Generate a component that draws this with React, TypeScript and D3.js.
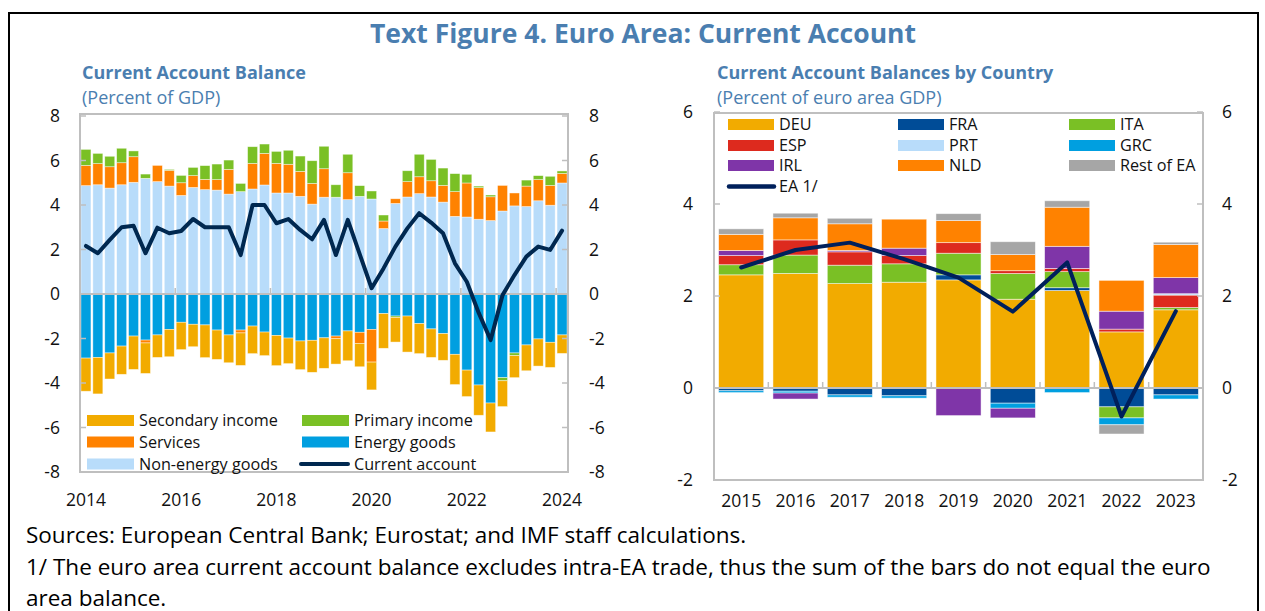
import React from "react";
import * as d3 from "d3";

// ---------- Left chart data (quarterly, 2014Q1–2024Q1) ----------
const years = ["2014", "2015", "2016", "2017", "2018", "2019", "2020", "2021", "2022", "2023", "2024"];
const qs = ["Q1", "Q2", "Q3", "Q4"];
const quarters = years.flatMap((y) => qs.map((q) => y + q)).slice(0, 41);

const nonEnergyGoods = [4.87, 4.91, 4.76, 4.91, 5.02, 5.2, 5.05, 4.85, 4.43, 4.79, 4.69, 4.67, 4.49, 4.6, 4.72, 4.9, 4.54, 4.54, 4.39, 4.04, 4.35, 4.35, 4.24, 4.39, 4.27, 2.94, 4.07, 4.36, 4.51, 4.36, 4.13, 3.49, 3.46, 3.36, 3.3, 3.73, 3.96, 3.93, 4.19, 3.99, 4.99];
const energyGoods = [-2.88, -2.85, -2.65, -2.34, -1.89, -2.07, -1.84, -1.59, -1.27, -1.36, -1.39, -1.62, -1.84, -1.62, -1.44, -1.71, -1.86, -1.98, -2.11, -2.08, -1.97, -1.89, -1.66, -1.72, -1.59, -0.88, -0.99, -0.99, -1.33, -1.57, -1.78, -2.71, -3.42, -4.09, -4.9, -3.76, -2.65, -2.29, -2.02, -2.17, -1.84];
const services = [0.91, 0.95, 0.96, 0.99, 1.15, -0.13, 0.73, 0.71, 0.57, 0.53, 0.46, 0.47, 1.11, -0.13, 1.15, 1.42, 1.33, 1.29, 1.12, 0.93, 1.28, -0.12, 1.21, -0.5, -1.47, 0.34, 0.21, 0.69, 0.76, 0.73, 0.75, 1.11, 1.53, 1.42, 1.07, 1.15, 0.58, 0.92, 0.95, 0.89, 0.43];
const primaryIncome = [0.72, 0.46, 0.47, 0.65, 0.26, 0.19, 0, 0.04, 0.33, 0.37, 0.62, 0.7, 0.42, 0.37, 0.75, 0.42, 0.54, 0.63, 0.69, 1.02, 1.01, 0.56, 0.83, 0.48, 0.36, 0.27, -0.06, 0.49, 1.01, 0.96, 0.78, 0.81, 0.39, 0.07, 0.08, -0.14, -0.12, 0.27, 0.18, 0.41, 0.11];
const secondaryIncome = [-1.49, -1.64, -1.17, -1.27, -1.5, -1.37, -1.01, -1.23, -1.23, -1.01, -1.47, -1.32, -1.25, -1.46, -1.24, -1.06, -1.36, -1.15, -1.29, -1.44, -1.37, -1.14, -1.34, -1.05, -1.25, -1.56, -1.11, -1.62, -1.35, -1.28, -1.2, -1.36, -1.19, -1.36, -1.3, -1.16, -0.99, -1.16, -1.22, -1.13, -0.83];
const currentAccount = [2.16, 1.83, 2.43, 3.0, 3.07, 1.83, 2.98, 2.73, 2.83, 3.37, 3.0, 3.0, 3.0, 1.75, 4.0, 4.0, 3.18, 3.37, 2.88, 2.46, 3.33, 1.75, 3.33, 1.79, 0.26, 1.15, 2.13, 2.95, 3.63, 3.21, 2.73, 1.38, 0.55, -0.85, -2.07, -0.05, 0.85, 1.68, 2.13, 1.98, 2.85];
const leftYTicks = [-8, -6, -4, -2, 0, 2, 4, 6, 8];
const leftXLabelQuarters = ["2014Q1", "2016Q1", "2018Q1", "2020Q1", "2022Q1", "2024Q1"];

// ---------- Right chart data (annual, 2015–2023) ----------
const countryYears = ["2015", "2016", "2017", "2018", "2019", "2020", "2021", "2022", "2023"];
const DEU = [2.46, 2.49, 2.27, 2.3, 2.35, 1.93, 2.12, 1.22, 1.7];
const FRA = [-0.06, -0.07, -0.15, -0.17, 0.11, -0.33, 0.06, -0.41, -0.15];
const ITA = [0.22, 0.4, 0.4, 0.4, 0.47, 0.56, 0.35, -0.24, 0.05];
const ESP = [0.2, 0.33, 0.29, 0.18, 0.23, 0.06, 0.07, 0.06, 0.27];
const PRT = [0, 0, 0, 0, 0, 0, 0, 0, 0.03];
const GRC = [-0.04, -0.04, -0.05, -0.05, 0, -0.11, -0.1, -0.15, -0.09];
const IRL = [0.11, -0.13, 0.03, 0.16, -0.6, -0.21, 0.48, 0.39, 0.35];
const NLD = [0.35, 0.48, 0.58, 0.63, 0.48, 0.35, 0.85, 0.67, 0.72];
const RestEA = [0.12, 0.1, 0.12, 0, 0.15, 0.28, 0.14, -0.2, 0.05];
const EA = [2.62, 3.0, 3.16, 2.8, 2.4, 1.66, 2.73, -0.62, 1.67];
const rightYTicks = [-2, 0, 2, 4, 6];

// ---------- Styles ----------
const FONT = "'Open Sans', 'Noto Sans', sans-serif";
const BLUE_TITLE = "#4A7EB0";
const AXIS_GRAY = "#BFBFBF";

const leftSeries = [
  { key: "nonEnergy", label: "Non-energy goods", color: "#B8DCFA", values: nonEnergyGoods },
  { key: "energy", label: "Energy goods", color: "#009FE0", values: energyGoods },
  { key: "services", label: "Services", color: "#FF8200", values: services },
  { key: "primary", label: "Primary income", color: "#7AC025", values: primaryIncome },
  { key: "secondary", label: "Secondary income", color: "#F2AB00", values: secondaryIncome },
];

const rightSeries = [
  { key: "DEU", color: "#F2AB00", values: DEU },
  { key: "FRA", color: "#004C97", values: FRA },
  { key: "ITA", color: "#7AC025", values: ITA },
  { key: "ESP", color: "#DD2A1E", values: ESP },
  { key: "PRT", color: "#B8DCFA", values: PRT },
  { key: "GRC", color: "#009FE0", values: GRC },
  { key: "IRL", color: "#7F35A8", values: IRL },
  { key: "NLD", color: "#FF8200", values: NLD },
  { key: "Rest of EA", color: "#A6A6A6", values: RestEA },
];

function stackIt(series: any[], cats: string[]) {
  const rows = cats.map((c, i) => {
    const r: any = { cat: c };
    series.forEach((s) => (r[s.key] = s.values[i]));
    return r;
  });
  return d3
    .stack()
    .keys(series.map((s) => s.key))
    .offset(d3.stackOffsetDiverging)(rows);
}

function LeftChart() {
  const L = 80, R = 568, T = 114, B = 472;
  const x = d3.scaleBand<string>().domain(quarters).range([L, R]).paddingInner(0.16).paddingOuter(0.08);
  const y = d3.scaleLinear().domain([-8, 8]).range([472, 116]);
  const stacked = stackIt(leftSeries, quarters);
  const line = d3
    .line<number>()
    .x((_, i) => (x(quarters[i]) as number) + x.bandwidth() / 2)
    .y((d) => y(d));
  const step = x.step();
  const boundary = (i: number) => (x(quarters[i]) as number) - (step * 0.16) / 2;
  const tickIdx = [8, 16, 24, 32, 40];

  const legend = [
    { label: "Secondary income", color: "#F2AB00", col: 0, row: 0 },
    { label: "Primary income", color: "#7AC025", col: 1, row: 0 },
    { label: "Services", color: "#FF8200", col: 0, row: 1 },
    { label: "Energy goods", color: "#009FE0", col: 1, row: 1 },
    { label: "Non-energy goods", color: "#B8DCFA", col: 0, row: 2 },
    { label: "Current account", color: "#002850", col: 1, row: 2, line: true },
  ];
  const colX = [87, 302];
  const rowY = [420.5, 442, 464];

  return (
    <g>
      {stacked.map((s, si) => (
        <g key={s.key} fill={leftSeries[si].color}>
          {s.map((d, i) => {
            const y0 = y(d[0]), y1 = y(d[1]);
            const h = Math.abs(y0 - y1);
            if (h < 0.01) return null;
            return (
              <rect key={i} x={x(quarters[i])} y={Math.min(y0, y1)} width={x.bandwidth()} height={h}
                stroke="#ffffff" strokeWidth={0.7} strokeOpacity={0.6} />
            );
          })}
        </g>
      ))}
      {/* zero axis */}
      <line x1={L} x2={R} y1={y(0)} y2={y(0)} stroke={AXIS_GRAY} strokeWidth={2} />
      {tickIdx.map((i) => (
        <line key={i} x1={boundary(i)} x2={boundary(i)} y1={y(0)} y2={y(0) - 6} stroke={AXIS_GRAY} strokeWidth={1.5} />
      ))}
      {/* frame */}
      <rect x={L} y={T} width={R - L} height={B - T} fill="none" stroke={AXIS_GRAY} strokeWidth={2} />
      {leftYTicks.map((t) => (
        <g key={t}>
          <line x1={L} x2={L + 6} y1={y(t)} y2={y(t)} stroke={AXIS_GRAY} strokeWidth={1.5} />
          <line x1={R - 6} x2={R} y1={y(t)} y2={y(t)} stroke={AXIS_GRAY} strokeWidth={1.5} />
          <text x={60} y={y(t)} dy="0.35em" textAnchor="end" fontSize={17.5} fill="#111">{t}</text>
          <text x={589} y={y(t)} dy="0.35em" textAnchor="start" fontSize={17.5} fill="#111">{t}</text>
        </g>
      ))}
      <path d={line(currentAccount) || ""} fill="none" stroke="#002850" strokeWidth={4} strokeLinejoin="round" strokeLinecap="round" />
      {leftXLabelQuarters.map((q) => (
        <text key={q} x={(x(q) as number) + x.bandwidth() / 2} y={500} dy="0.35em" textAnchor="middle" fontSize={17.5} fill="#111">
          {q.slice(0, 4)}
        </text>
      ))}
      {legend.map((l) => (
        <g key={l.label}>
          {l.line ? (
            <line x1={colX[l.col] - 1} x2={colX[l.col] + 46} y1={rowY[l.row]} y2={rowY[l.row]} stroke={l.color} strokeWidth={4} strokeLinecap="round" />
          ) : (
            <rect x={colX[l.col]} y={rowY[l.row] - 5.5} width={47} height={11} fill={l.color} />
          )}
          <text x={colX[l.col] + 52} y={rowY[l.row]} dy="0.36em" fontSize={16.2} fill="#111">{l.label}</text>
        </g>
      ))}
    </g>
  );
}

function RightChart() {
  const L = 714, R = 1203, T = 113, B = 480;
  const x = d3.scaleBand<string>().domain(countryYears).range([L, R]).paddingInner(0.17).paddingOuter(0.085);
  const y = d3.scaleLinear().domain([-2, 6]).range([480, 112]);
  const stacked = stackIt(rightSeries, countryYears);
  const line = d3
    .line<number>()
    .x((_, i) => (x(countryYears[i]) as number) + x.bandwidth() / 2)
    .y((d) => y(d));
  const step = x.step();
  const boundary = (i: number) => (x(countryYears[i]) as number) - (step * 0.17) / 2;

  const legend = [
    { label: "DEU", color: "#F2AB00", col: 0, row: 0 },
    { label: "FRA", color: "#004C97", col: 1, row: 0 },
    { label: "ITA", color: "#7AC025", col: 2, row: 0 },
    { label: "ESP", color: "#DD2A1E", col: 0, row: 1 },
    { label: "PRT", color: "#B8DCFA", col: 1, row: 1 },
    { label: "GRC", color: "#009FE0", col: 2, row: 1 },
    { label: "IRL", color: "#7F35A8", col: 0, row: 2 },
    { label: "NLD", color: "#FF8200", col: 1, row: 2 },
    { label: "Rest of EA", color: "#A6A6A6", col: 2, row: 2 },
    { label: "EA 1/", color: "#00205B", col: 0, row: 3, line: true },
  ];
  const colX = [728, 898, 1069];
  const rowY = [124.5, 145.5, 165.5, 186.5];

  return (
    <g>
      {stacked.map((s, si) => (
        <g key={s.key} fill={rightSeries[si].color}>
          {s.map((d, i) => {
            const y0 = y(d[0]), y1 = y(d[1]);
            const h = Math.abs(y0 - y1);
            if (h < 0.01) return null;
            return (
              <rect key={i} x={x(countryYears[i])} y={Math.min(y0, y1)} width={x.bandwidth()} height={h}
                stroke="#ffffff" strokeWidth={0.8} strokeOpacity={0.6} />
            );
          })}
        </g>
      ))}
      <line x1={L} x2={R} y1={y(0)} y2={y(0)} stroke={AXIS_GRAY} strokeWidth={2} />
      {countryYears.slice(1).map((c, k) => (
        <line key={c} x1={boundary(k + 1)} x2={boundary(k + 1)} y1={y(0)} y2={y(0) - 6} stroke={AXIS_GRAY} strokeWidth={1.5} />
      ))}
      <rect x={L} y={T} width={R - L} height={B - T} fill="none" stroke={AXIS_GRAY} strokeWidth={2} />
      {rightYTicks.map((t) => (
        <g key={t}>
          <line x1={L} x2={L + 6} y1={y(t)} y2={y(t)} stroke={AXIS_GRAY} strokeWidth={1.5} />
          <line x1={R - 6} x2={R} y1={y(t)} y2={y(t)} stroke={AXIS_GRAY} strokeWidth={1.5} />
          <text x={693} y={y(t)} dy="0.35em" textAnchor="end" fontSize={17.5} fill="#111">{t}</text>
          <text x={1222} y={y(t)} dy="0.35em" textAnchor="start" fontSize={17.5} fill="#111">{t}</text>
        </g>
      ))}
      <path d={line(EA) || ""} fill="none" stroke="#00205B" strokeWidth={4} strokeLinejoin="round" strokeLinecap="round" />
      {countryYears.map((c) => (
        <text key={c} x={(x(c) as number) + x.bandwidth() / 2} y={501} dy="0.35em" textAnchor="middle" fontSize={17.5} fill="#111">
          {c}
        </text>
      ))}
      {legend.map((l) => (
        <g key={l.label}>
          {l.line ? (
            <line x1={colX[l.col] + 1} x2={colX[l.col] + 46} y1={rowY[l.row]} y2={rowY[l.row]} stroke={l.color} strokeWidth={4.5} strokeLinecap="round" />
          ) : (
            <rect x={colX[l.col]} y={rowY[l.row] - 5.5} width={46} height={11} fill={l.color} />
          )}
          <text x={colX[l.col] + 51} y={rowY[l.row]} dy="0.36em" fontSize={16.2} fill="#111">{l.label}</text>
        </g>
      ))}
    </g>
  );
}

export default function App() {
  return (
    <svg width={1265} height={611} style={{ position: "absolute", left: 0, top: 0, background: "#fff" }} fontFamily={FONT}>
      <rect x={9} y={13} width={1249} height={640} fill="none" stroke="#000" strokeWidth={2} />
      <text x={643} y={43} textAnchor="middle" fontSize={26.5} fontWeight={700} fill={BLUE_TITLE}>
        Text Figure 4. Euro Area: Current Account
      </text>
      <text x={82} y={79} fontSize={18} fontWeight={700} fill={BLUE_TITLE}>Current Account Balance</text>
      <text x={82} y={104} fontSize={18} fill={BLUE_TITLE}>(Percent of GDP)</text>
      <text x={717} y={79} fontSize={18} fontWeight={700} fill={BLUE_TITLE}>Current Account Balances by Country</text>
      <text x={717} y={104} fontSize={18} fill={BLUE_TITLE}>(Percent of euro area GDP)</text>
      <LeftChart />
      <RightChart />
      <text x={26} y={543} fontSize={22.5} fill="#000">Sources: European Central Bank; Eurostat; and IMF staff calculations.</text>
      <text x={26} y={575} fontSize={22.5} fill="#000">
        1/ The euro area current account balance excludes intra-EA trade, thus the sum of the bars do not equal the euro
      </text>
      <text x={26} y={606} fontSize={22.5} fill="#000">area balance.</text>
    </svg>
  );
}
